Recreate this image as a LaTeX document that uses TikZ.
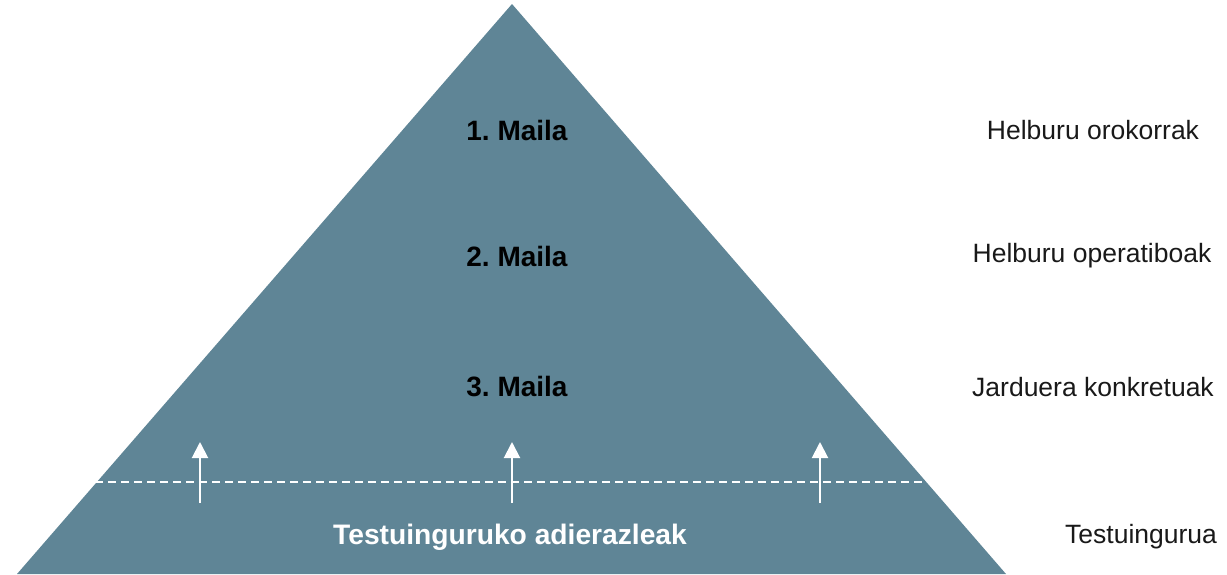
\documentclass[tikz,border=0pt]{standalone}
\usepackage{fontspec}
\setmainfont{Liberation Sans}
\usetikzlibrary{arrows.meta}
\definecolor{pyr}{RGB}{95,133,150}
\frenchspacing
\begin{document}
\begin{tikzpicture}[x=1pt,y=-1pt,
  lvl/.style={font=\fontsize{28}{32}\selectfont\bfseries, text=black, inner sep=0pt},
  side/.style={font=\fontsize{26.5}{32}\selectfont, text=black!90, inner sep=0pt},
  ctx/.style={font=\fontsize{28.2}{32}\selectfont\bfseries, text=white, inner sep=0pt},
  uparrow/.style={draw=white, line width=2pt, -{Triangle[width=16pt,length=16pt]}},
  sep/.style={draw=white, line width=1.8pt, dash pattern=on 8pt off 5pt}]
\useasboundingbox (0,0) rectangle (1227,574);
% pyramid
\coordinate (apex) at (512,4);
\coordinate (bl) at (17,574);
\coordinate (br) at (1006,574);
\fill[pyr] (apex) -- (br) -- (bl) -- cycle;
% dashed separator
\coordinate (dl) at (95,482);
\coordinate (dr) at (927,482);
\draw[sep] (dl) -- (dr);
% arrows
\coordinate (a1s) at (200,503); \coordinate (a1e) at (200,442);
\coordinate (a2s) at (512,503); \coordinate (a2e) at (512,442);
\coordinate (a3s) at (820,503); \coordinate (a3e) at (820,442);
\draw[uparrow] (a1s) -- (a1e);
\draw[uparrow] (a2s) -- (a2e);
\draw[uparrow] (a3s) -- (a3e);
% level labels
\node[lvl] (l1) at (517,130) {1. Maila};
\node[lvl] (l2) at (517,256) {2. Maila};
\node[lvl] (l3) at (517,387) {3. Maila};
\node[ctx] (l4) at (510,537) {Testuinguruko adierazleak};
% side labels
\node[side] (s1) at (1093,130) {Helburu orokorrak};
\node[side] (s2) at (1092,256) {Helburu operatiboak};
\node[side] (s3) at (1093,387) {Jarduera konkretuak};
\node[side] (s4) at (1141,537) {Testuingurua};
\end{tikzpicture}
\end{document}
